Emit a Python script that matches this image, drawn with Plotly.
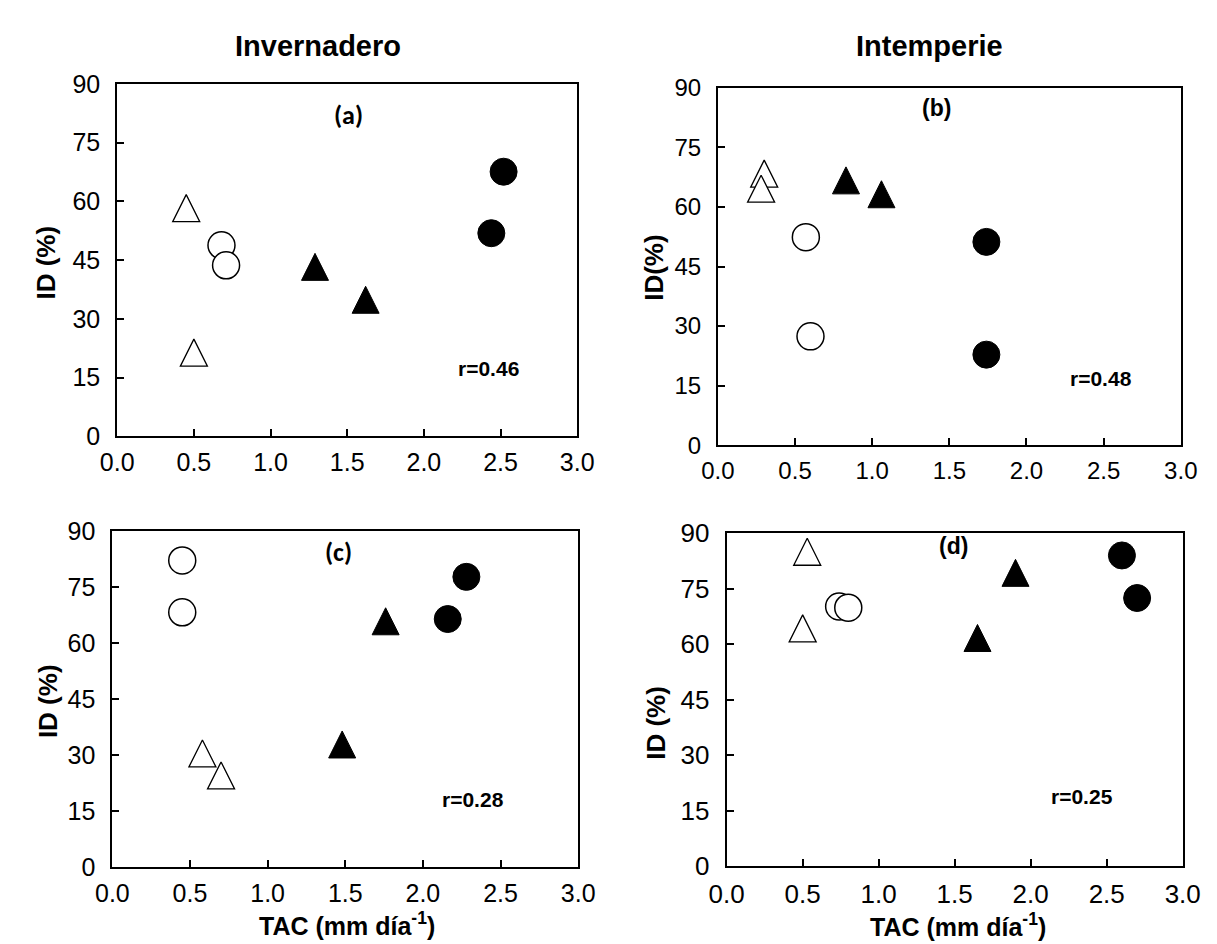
import plotly.graph_objects as go

# ---------------- data ----------------
x_ticks = [0.0, 0.5, 1.0, 1.5, 2.0, 2.5, 3.0]
y_ticks = [0, 15, 30, 45, 60, 75, 90]
col_titles = ["Invernadero", "Intemperie"]
panel_labels = ["(a)", "(b)", "(c)", "(d)"]
r_labels = ["r=0.46", "r=0.48", "r=0.28", "r=0.25"]
y_titles = ["ID (%)", "ID(%)", "ID (%)", "ID (%)"]
x_title = "TAC (mm día<sup>-1</sup>)"

# Panel (a) Invernadero
a_tri_open_x = [0.45, 0.50]
a_tri_open_y = [58.3, 21.4]
a_circ_open_x = [0.68, 0.71]
a_circ_open_y = [48.8, 43.7]
a_tri_fill_x = [1.29, 1.62]
a_tri_fill_y = [43.3, 34.9]
a_circ_fill_x = [2.52, 2.44]
a_circ_fill_y = [67.6, 51.9]

# Panel (b) Intemperie
b_tri_open_x = [0.30, 0.28]
b_tri_open_y = [68.4, 64.6]
b_circ_open_x = [0.57, 0.60]
b_circ_open_y = [52.4, 27.4]
b_tri_fill_x = [0.83, 1.06]
b_tri_fill_y = [66.7, 63.2]
b_circ_fill_x = [1.74, 1.74]
b_circ_fill_y = [51.2, 22.8]

# Panel (c) Invernadero
c_tri_open_x = [0.58, 0.70]
c_tri_open_y = [30.5, 24.6]
c_circ_open_x = [0.45, 0.45]
c_circ_open_y = [82.2, 68.3]
c_tri_fill_x = [1.48, 1.76]
c_tri_fill_y = [32.9, 65.9]
c_circ_fill_x = [2.16, 2.28]
c_circ_fill_y = [66.5, 77.8]

# Panel (d) Intemperie
d_tri_open_x = [0.53, 0.50]
d_tri_open_y = [85.0, 64.3]
d_circ_open_x = [0.74, 0.80]
d_circ_open_y = [70.2, 69.9]
d_tri_fill_x = [1.65, 1.90]
d_tri_fill_y = [61.7, 79.3]
d_circ_fill_x = [2.60, 2.70]
d_circ_fill_y = [84.0, 72.5]

# ---------------- layout helpers ----------------
W, H = 1217, 944


def xd(l, r):
    return [l / W, r / W]


def yd(t, b):
    return [1 - b / H, 1 - t / H]


def px(x):
    return x / W


def py(y):
    return 1 - y / H


FONT = "Liberation Sans, Arial, sans-serif"
LABEL_FONT = "Carlito, Lato, Open Sans, sans-serif"

TRI = 27
CIRC = 27

fig = go.Figure()


def add_panel(xa, ya, tox, toy, cox, coy, tfx, tfy, cfx, cfy):
    tri_marker = dict(symbol="arrow-down", angle=180, standoff=TRI / 2, size=TRI)
    fig.add_trace(go.Scatter(
        x=tox, y=toy, xaxis=xa, yaxis=ya, mode="markers", showlegend=False,
        marker=dict(color="white", line=dict(color="black", width=1.3), **tri_marker)))
    fig.add_trace(go.Scatter(
        x=cox, y=coy, xaxis=xa, yaxis=ya, mode="markers", showlegend=False,
        marker=dict(symbol="circle", size=CIRC, color="white",
                    line=dict(color="black", width=1.5))))
    fig.add_trace(go.Scatter(
        x=tfx, y=tfy, xaxis=xa, yaxis=ya, mode="markers", showlegend=False,
        marker=dict(color="black", line=dict(color="black", width=1), **tri_marker)))
    fig.add_trace(go.Scatter(
        x=cfx, y=cfy, xaxis=xa, yaxis=ya, mode="markers", showlegend=False,
        marker=dict(symbol="circle", size=CIRC, color="black",
                    line=dict(color="black", width=1))))


add_panel("x", "y", a_tri_open_x, a_tri_open_y, a_circ_open_x, a_circ_open_y,
          a_tri_fill_x, a_tri_fill_y, a_circ_fill_x, a_circ_fill_y)
add_panel("x2", "y2", b_tri_open_x, b_tri_open_y, b_circ_open_x, b_circ_open_y,
          b_tri_fill_x, b_tri_fill_y, b_circ_fill_x, b_circ_fill_y)
add_panel("x3", "y3", c_tri_open_x, c_tri_open_y, c_circ_open_x, c_circ_open_y,
          c_tri_fill_x, c_tri_fill_y, c_circ_fill_x, c_circ_fill_y)
add_panel("x4", "y4", d_tri_open_x, d_tri_open_y, d_circ_open_x, d_circ_open_y,
          d_tri_fill_x, d_tri_fill_y, d_circ_fill_x, d_circ_fill_y)


def xaxis(dom, anchor, fs):
    return dict(domain=dom, anchor=anchor, range=[0, 3], tickvals=x_ticks,
                ticktext=[f"{v:.1f}" for v in x_ticks],
                ticks="inside", ticklen=7, tickwidth=1.5, tickcolor="black",
                showline=True, linecolor="black", linewidth=2, mirror=True,
                showgrid=False, zeroline=False, ticklabelstandoff=3,
                tickfont=dict(family=FONT, size=fs, color="black"))


def yaxis(dom, anchor, fs):
    return dict(domain=dom, anchor=anchor, range=[0, 90], tickvals=y_ticks,
                ticktext=[str(v) for v in y_ticks],
                ticks="inside", ticklen=7, tickwidth=1.5, tickcolor="black",
                showline=True, linecolor="black", linewidth=2, mirror=True,
                showgrid=False, zeroline=False, ticklabelstandoff=10,
                tickfont=dict(family=FONT, size=fs, color="black"))


fig.update_layout(
    width=W, height=H, margin=dict(l=0, r=0, t=0, b=0),
    paper_bgcolor="white", plot_bgcolor="white", showlegend=False,
    xaxis=xaxis(xd(94, 568), "y", 25), yaxis=yaxis(yd(63, 427), "x", 25),
    xaxis2=xaxis(xd(713, 1190), "y2", 24), yaxis2=yaxis(yd(67, 436), "x2", 24),
    xaxis3=xaxis(xd(89, 569), "y3", 25), yaxis3=yaxis(yd(525, 872), "x3", 25),
    xaxis4=xaxis(xd(722, 1192), "y4", 26), yaxis4=yaxis(yd(527, 871), "x4", 26),
)

ann = []
# column titles
for txt, cx in zip(col_titles, [301, 931]):
    ann.append(dict(text=f"<b>{txt}</b>", x=px(cx), y=py(24), xref="paper", yref="paper",
                    showarrow=False, xanchor="center", yanchor="middle",
                    font=dict(family=FONT, size=29, color="black")))
# y axis titles
for txt, cx, cy in zip(y_titles, [21, 647, 22, 649], [247, 253, 700, 723]):
    ann.append(dict(text=f"<b>{txt}</b>", x=px(cx), y=py(cy), xref="paper", yref="paper",
                    showarrow=False, textangle=-90, xanchor="center", yanchor="middle",
                    font=dict(family=FONT, size=26, color="black")))
# x axis titles
for cx, cy in [(331, 931), (960, 932)]:
    ann.append(dict(text=f"<b>{x_title}</b>", x=px(cx), y=py(cy), xref="paper", yref="paper",
                    showarrow=False, xanchor="center", yanchor="middle",
                    font=dict(family=FONT, size=25, color="black")))
# panel labels and r values (data coordinates)
lab_pos = [(1.51, 82.2), (1.415, 84.9), (1.455, 84.4), (1.494, 86.5)]
r_pos = [(2.42, 17.4), (2.48, 16.9), (2.32, 18.1), (2.34, 18.8)]
refs = [("x", "y"), ("x2", "y2"), ("x3", "y3"), ("x4", "y4")]
for i, (xr, yr) in enumerate(refs):
    calibri_like = i in (0, 2)
    ann.append(dict(text=f"<b>{panel_labels[i]}</b>", x=lab_pos[i][0], y=lab_pos[i][1],
                    xref=xr, yref=yr, showarrow=False, xanchor="center", yanchor="middle",
                    font=dict(family=LABEL_FONT if calibri_like else FONT,
                              size=26 if calibri_like else 23, color="black")))
    ann.append(dict(text=f"<b>{r_labels[i]}</b>", x=r_pos[i][0], y=r_pos[i][1],
                    xref=xr, yref=yr, showarrow=False, xanchor="center", yanchor="middle",
                    font=dict(family=FONT, size=21, color="black")))
fig.update_layout(annotations=ann)

fig.write_html("out.html")
